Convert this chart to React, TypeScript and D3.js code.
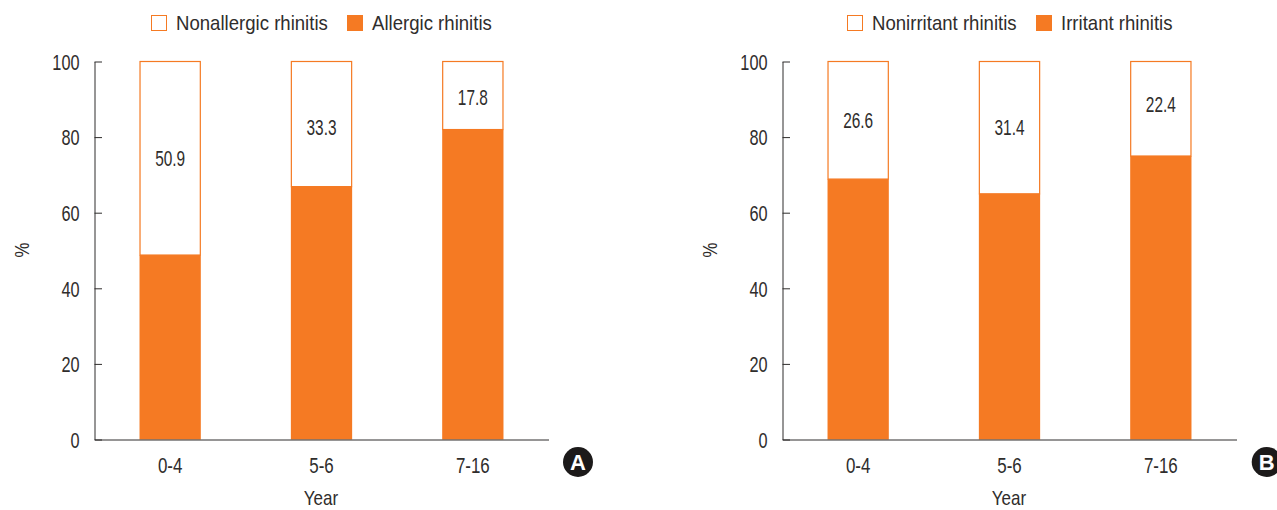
import * as d3 from "d3";
import React, { useEffect, useRef } from "react";

const ageGroups = ["0-4", "5-6", "7-16"];
const yTicks = [0, 20, 40, 60, 80, 100];

// panel A
const allergic = [48.8, 66.9, 82];
const nonallergicLabels = ["50.9", "33.3", "17.8"];

// panel B (printed labels do not always add up with the bar height)
const irritant = [68.9, 65, 75];
const nonirritantLabels = ["26.6", "31.4", "22.4"];

const ORANGE = "#f57a23";
const INK = "#2f2d2c";
const FONT = "'Liberation Sans', sans-serif";
const FONT_SIZE = 21;
const DIGIT_SIZE = 22;

// the original uses a condensed face, none is installed so squeeze the glyphs
const condense = (sel, ratio) => {
  sel.each(function () {
    const len = this.getComputedTextLength();
    d3.select(this)
      .attr("textLength", len * ratio)
      .attr("lengthAdjust", "spacingAndGlyphs");
  });
};

const drawPanel = (svg, opts) => {
  const { left, right, values, labels, labelAt, badge, badgeX, legend } = opts;
  const top = 61.5;
  const bottom = 439.5;

  const x = d3.scaleBand().domain(ageGroups).range([left, right]).paddingInner(0.595).paddingOuter(0.2975);
  const y = d3.scaleLinear().domain([0, 100]).range([bottom, top]);

  const g = svg.append("g");

  // stacked bars: outlined remainder on top, filled part below
  g.selectAll(".rest")
    .data(ageGroups)
    .enter()
    .append("rect")
    .attr("x", (d) => x(d) + 0.5)
    .attr("y", y(100))
    .attr("width", x.bandwidth() - 1)
    .attr("height", (d, i) => y(values[i]) - y(100))
    .attr("fill", "#fff")
    .attr("stroke", ORANGE)
    .attr("stroke-width", 1.2);

  g.selectAll(".fill")
    .data(ageGroups)
    .enter()
    .append("rect")
    .attr("x", (d) => x(d))
    .attr("y", (d, i) => y(values[i]))
    .attr("width", x.bandwidth())
    .attr("height", (d, i) => y(0) - y(values[i]))
    .attr("fill", ORANGE);

  g.selectAll(".val")
    .data(labels)
    .enter()
    .append("text")
    .attr("x", (d, i) => x(ageGroups[i]) + x.bandwidth() / 2)
    .attr("y", (d, i) => y(labelAt[i]))
    .attr("dy", "0.35em")
    .attr("text-anchor", "middle")
    .attr("font-size", DIGIT_SIZE)
    .attr("fill", INK)
    .text((d) => d)
    .call(condense, 0.7);

  // axes
  const yAxis = g
    .append("g")
    .attr("transform", `translate(${left},0)`)
    .call(d3.axisLeft(y).tickValues(yTicks).tickSize(-7.5).tickSizeOuter(0).tickPadding(15));
  const xAxis = g
    .append("g")
    .attr("transform", `translate(0,${bottom})`)
    .call(d3.axisBottom(x).tickSize(0).tickPadding(18));

  [yAxis, xAxis].forEach((a) => {
    a.attr("font-family", FONT).attr("font-size", DIGIT_SIZE);
    a.selectAll("text").attr("fill", INK);
    a.selectAll("line").attr("stroke", INK);
    a.select(".domain").attr("stroke", INK);
  });
  yAxis.selectAll("text").attr("dy", "0.35em").call(condense, 0.74);
  xAxis.selectAll("text").call(condense, 0.77);

  g.append("text")
    .attr("x", (left + right) / 2 - 0.5)
    .attr("y", 505)
    .attr("text-anchor", "middle")
    .attr("font-size", FONT_SIZE)
    .attr("fill", INK)
    .text("Year")
    .call(condense, 0.81);

  g.append("text")
    .attr("transform", `translate(${left - 66},250) rotate(-90)`)
    .attr("text-anchor", "middle")
    .attr("font-size", FONT_SIZE)
    .attr("fill", INK)
    .text("%")
    .call(condense, 0.8);

  // legend
  legend.forEach((item) => {
    g.append("rect")
      .attr("x", item.x + 0.5)
      .attr("y", 15.5)
      .attr("width", 15)
      .attr("height", 15)
      .attr("fill", item.filled ? ORANGE : "#fff")
      .attr("stroke", ORANGE);
    g.append("text")
      .attr("x", item.x + 25)
      .attr("y", 30)
      .attr("font-size", FONT_SIZE)
      .attr("fill", INK)
      .text(item.label)
      .call(condense, 0.885);
  });

  // panel badge
  g.append("circle").attr("cx", badgeX).attr("cy", 462).attr("r", 15).attr("fill", "#1c1a1a");
  g.append("text")
    .attr("x", badgeX)
    .attr("y", 469.5)
    .attr("text-anchor", "middle")
    .attr("font-weight", "bold")
    .attr("font-size", 22)
    .attr("fill", "#fff")
    .text(badge);
};

export default function App() {
  const svgRef = useRef(null);

  useEffect(() => {
    const svg = d3.select(svgRef.current).html("").attr("font-family", FONT);

    drawPanel(svg, {
      left: 94.5,
      right: 548.5,
      values: allergic,
      labels: nonallergicLabels,
      labelAt: [74.5, 82.7, 90.6],
      badge: "A",
      badgeX: 578,
      legend: [
        { x: 151, label: "Nonallergic rhinitis", filled: false },
        { x: 347, label: "Allergic rhinitis", filled: true },
      ],
    });

    drawPanel(svg, {
      left: 782.5,
      right: 1236.5,
      values: irritant,
      labels: nonirritantLabels,
      labelAt: [84.5, 82.7, 88.8],
      badge: "B",
      badgeX: 1266.7,
      legend: [
        { x: 847, label: "Nonirritant rhinitis", filled: false },
        { x: 1036, label: "Irritant rhinitis", filled: true },
      ],
    });
  }, []);

  return (
    <svg
      ref={svgRef}
      width={1277}
      height={510}
      style={{ position: "absolute", left: 0, top: 0, background: "#fff" }}
    />
  );
}
